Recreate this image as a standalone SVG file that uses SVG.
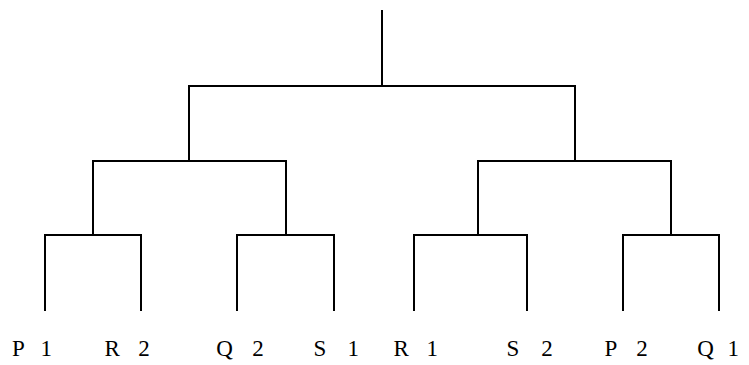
<svg xmlns="http://www.w3.org/2000/svg" width="749" height="365" viewBox="0 0 749 365">
<style>
.e{fill:none;stroke:#000;stroke-width:2;stroke-linecap:square;stroke-linejoin:miter}
.l{font-family:"Liberation Serif","Times New Roman",serif;font-size:23px;fill:#000}
</style>
<rect width="749" height="365" fill="#fff"/>
<g id="connectors">
<path class="e" d="M382 11V86"/>
<path class="e" d="M189 161V86H575V161"/>
<path class="e" d="M93 235V161H286V235"/>
<path class="e" d="M478 235V161H671V235"/>
<path class="e" d="M45 310V235H141V310"/>
<path class="e" d="M237 310V235H334V310"/>
<path class="e" d="M414 310V235H527V310"/>
<path class="e" d="M623 310V235H719V310"/>
</g>
<g id="leaf-P1"><text class="l" x="12 30 40.5" y="356">P 1</text></g>
<g id="leaf-R2"><text class="l" x="104.6 125 138.3" y="356">R 2</text></g>
<g id="leaf-Q2"><text class="l" x="216.2 238 252.3" y="356">Q 2</text></g>
<g id="leaf-S1"><text class="l" x="313.6 333 347.4" y="356">S 1</text></g>
<g id="leaf-R1"><text class="l" x="393.6 413 426.4" y="356">R 1</text></g>
<g id="leaf-S2"><text class="l" x="506.6 526 541.3" y="356">S 2</text></g>
<g id="leaf-P2"><text class="l" x="604.6 622 636.3" y="356">P 2</text></g>
<g id="leaf-Q1"><text class="l" x="697.2 715 727.4" y="356">Q 1</text></g>
</svg>
